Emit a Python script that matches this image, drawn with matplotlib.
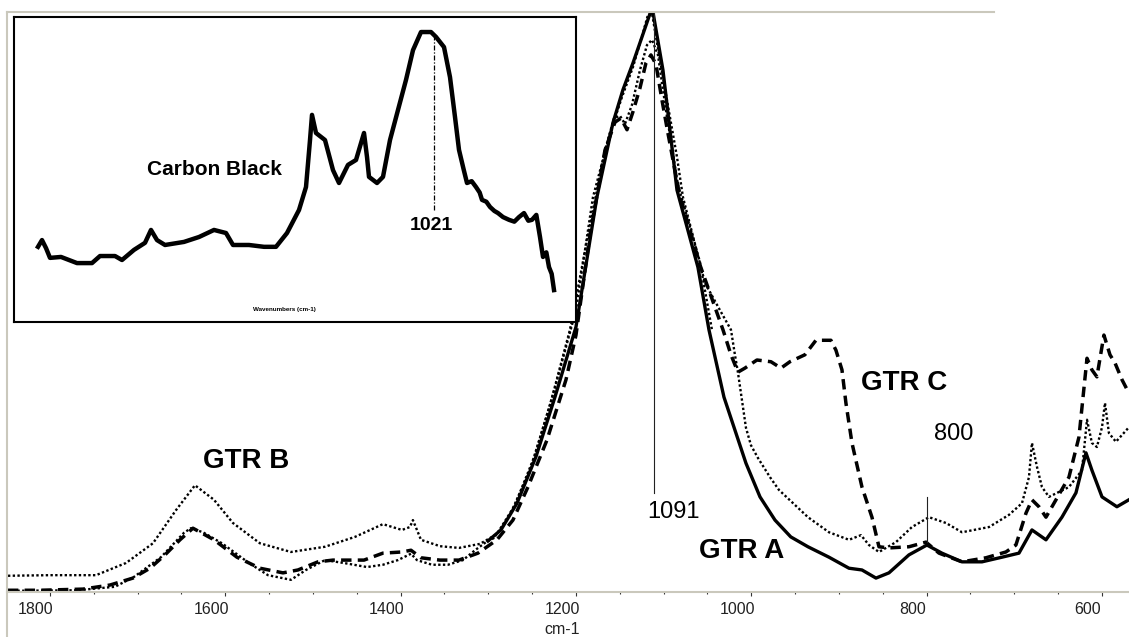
import matplotlib
matplotlib.use('Agg')
import matplotlib.pyplot as plt
from matplotlib.lines import Line2D
from matplotlib.ticker import MultipleLocator
from matplotlib.transforms import ScaledTranslation

plt.rcParams['font.family'] = ['Liberation Sans', 'DejaVu Sans']

# ---- GTR A (solid) ----
gtr_a_wn = [1300.4, 1285.6, 1267.3, 1245.7, 1224.0, 1200.0, 1176.1, 1157.8, 1146.4, 1135.0,
            1124.7, 1115.6, 1112.2, 1100.8, 1084.8, 1060.9, 1048.3, 1031.2, 1006.1, 990.1,
            973.0, 955.0, 935.4, 911.4, 888.6, 873.8, 857.8, 843.0, 820.2, 799.7,
            782.6, 759.7, 736.9, 714.1, 694.7, 679.9, 663.9, 645.7, 629.7, 618.3,
            611.5, 600.0, 583.0, 569.3]
gtr_a_abs = [0.088, 0.107, 0.153, 0.233, 0.336, 0.457, 0.681, 0.809, 0.866, 0.912,
             0.957, 0.997, 1.000, 0.900, 0.693, 0.560, 0.452, 0.336, 0.222, 0.164,
             0.124, 0.095, 0.078, 0.060, 0.041, 0.038, 0.024, 0.033, 0.064, 0.081,
             0.067, 0.052, 0.052, 0.060, 0.067, 0.107, 0.090, 0.129, 0.171, 0.240,
             0.210, 0.164, 0.147, 0.159]

# ---- GTR B (upper dotted) ----
gtr_b_wn = [1847.9, 1800.0, 1747.5, 1713.3, 1682.5, 1656.3, 1634.6, 1612.9, 1591.3, 1560.5,
            1525.1, 1486.3, 1452.1, 1420.2, 1398.5, 1389.4, 1386.0, 1376.8, 1355.2, 1333.5,
            1309.5, 1290.1, 1269.6, 1246.8, 1224.0, 1200.0, 1180.6, 1161.2, 1147.6, 1135.0,
            1123.6, 1117.9, 1113.3, 1107.6, 1096.2, 1084.8, 1078.0, 1052.9, 1035.8, 1023.2,
            1018.7, 1015.3, 1010.7, 1006.1, 1000.4, 992.4, 978.7, 968.5, 935.4, 911.4,
            888.6, 874.9, 865.8, 854.4, 835.0, 816.8, 797.4, 778.0, 759.7, 728.9,
            706.1, 691.3, 683.3, 679.9, 674.2, 668.5, 660.5, 637.7, 622.8, 617.1,
            611.5, 605.8, 600.0, 596.6, 592.1, 584.1, 569.3]
gtr_b_abs = [0.028, 0.029, 0.029, 0.050, 0.084, 0.141, 0.184, 0.159, 0.119, 0.084,
             0.069, 0.078, 0.095, 0.117, 0.107, 0.112, 0.124, 0.090, 0.079, 0.076,
             0.083, 0.100, 0.150, 0.236, 0.352, 0.486, 0.681, 0.791, 0.853, 0.905,
             0.964, 0.995, 0.998, 0.947, 0.848, 0.750, 0.681, 0.533, 0.486, 0.452,
             0.409, 0.379, 0.331, 0.283, 0.253, 0.231, 0.198, 0.176, 0.129, 0.103,
             0.090, 0.098, 0.081, 0.069, 0.086, 0.112, 0.129, 0.119, 0.103, 0.112,
             0.133, 0.153, 0.198, 0.257, 0.216, 0.181, 0.164, 0.181, 0.210, 0.297,
             0.257, 0.250, 0.284, 0.326, 0.274, 0.259, 0.284]

# ---- GTR C (dashed) ----
gtr_c_wn = [1847.9, 1811.4, 1762.4, 1731.6, 1705.3, 1685.9, 1668.8, 1651.7, 1636.9, 1612.9,
            1586.7, 1560.5, 1534.2, 1517.1, 1494.3, 1477.2, 1441.8, 1420.2, 1398.5, 1388.2,
            1376.8, 1355.2, 1333.5, 1311.8, 1290.1, 1271.9, 1254.8, 1233.1, 1211.4, 1200.0,
            1184.0, 1166.9, 1155.5, 1148.7, 1141.8, 1135.0, 1127.0, 1120.2, 1114.5, 1108.8,
            1101.9, 1095.1, 1081.4, 1058.6, 1032.3, 1023.2, 1015.3, 1007.3, 993.6, 977.6,
            966.2, 956.0, 938.9, 926.3, 909.2, 903.5, 896.6, 892.1, 885.2, 873.8,
            862.4, 854.4, 843.0, 820.2, 800.8, 785.9, 759.7, 732.4, 709.6, 698.2,
            686.7, 679.9, 671.9, 663.9, 652.5, 637.7, 626.3, 617.1, 611.5, 605.8,
            597.8, 590.9, 585.2, 577.2, 569.3]
gtr_c_abs = [0.003, 0.003, 0.005, 0.012, 0.024, 0.041, 0.064, 0.090, 0.110, 0.090,
             0.060, 0.041, 0.033, 0.038, 0.052, 0.055, 0.055, 0.067, 0.069, 0.072,
             0.059, 0.055, 0.055, 0.067, 0.090, 0.124, 0.181, 0.262, 0.366, 0.443,
             0.616, 0.762, 0.810, 0.817, 0.797, 0.828, 0.869, 0.912, 0.926, 0.910,
             0.848, 0.791, 0.681, 0.564, 0.452, 0.409, 0.379, 0.386, 0.400, 0.397,
             0.386, 0.397, 0.409, 0.434, 0.434, 0.417, 0.383, 0.326, 0.257, 0.181,
             0.129, 0.078, 0.076, 0.078, 0.086, 0.067, 0.052, 0.059, 0.069, 0.081,
             0.136, 0.159, 0.147, 0.129, 0.159, 0.198, 0.267, 0.403, 0.383, 0.371,
             0.443, 0.409, 0.395, 0.366, 0.343]

# ---- lower dotted trace ----
gtr_d_wn = [1847.9, 1769.2, 1725.9, 1704.2, 1673.4, 1647.2, 1639.2, 1625.5, 1603.8, 1573.0,
            1551.3, 1525.1, 1508.0, 1486.3, 1464.7, 1438.4, 1420.2, 1403.1, 1388.2, 1381.4,
            1364.3, 1346.0, 1328.9, 1315.2, 1302.7, 1293.6, 1275.3, 1252.5, 1229.7, 1206.9,
            1184.0, 1166.9, 1156.6, 1149.8, 1144.1, 1136.1, 1127.0, 1119.0, 1113.3, 1106.5,
            1097.4, 1083.7, 1058.6, 1044.9]
gtr_d_abs = [0.002, 0.003, 0.009, 0.026, 0.060, 0.102, 0.110, 0.103, 0.084, 0.050,
             0.029, 0.021, 0.038, 0.055, 0.050, 0.043, 0.047, 0.055, 0.066, 0.055,
             0.047, 0.047, 0.055, 0.072, 0.086, 0.093, 0.133, 0.210, 0.322, 0.452,
             0.633, 0.762, 0.817, 0.821, 0.807, 0.840, 0.900, 0.943, 0.952, 0.926,
             0.831, 0.702, 0.569, 0.452]

# ---- inset: carbon black ----
cb_wn = [1613.5, 1607.5, 1601.5, 1595.5, 1579.0, 1555.0, 1532.5, 1520.5, 1498.0, 1487.5,
         1469.5, 1453.0, 1444.0, 1435.0, 1423.0, 1394.5, 1372.0, 1349.5, 1331.5, 1321.0,
         1297.0, 1274.5, 1256.5, 1240.0, 1222.0, 1211.5, 1205.5, 1202.5, 1196.5, 1183.0,
         1171.0, 1162.0, 1148.5, 1136.5, 1124.5, 1120.0, 1117.0, 1105.0, 1096.0, 1085.5,
         1073.5, 1061.5, 1051.0, 1039.0, 1024.0, 1016.5, 1004.5, 995.5, 988.0, 982.0,
         975.0, 970.0, 963.0, 956.5, 951.0, 947.5, 941.0, 935.5, 929.0, 923.5,
         916.0, 907.0, 899.0, 892.0, 884.5, 878.0, 872.5, 866.0, 860.5, 856.0,
         851.0, 847.0, 843.0, 839.5]
cb_abs = [0.248, 0.270, 0.244, 0.212, 0.215, 0.195, 0.195, 0.218, 0.218, 0.205,
          0.238, 0.261, 0.303, 0.270, 0.254, 0.264, 0.280, 0.303, 0.293, 0.254,
          0.254, 0.248, 0.248, 0.293, 0.368, 0.443, 0.596, 0.678, 0.619, 0.596,
          0.498, 0.456, 0.515, 0.531, 0.619, 0.541, 0.476, 0.456, 0.476, 0.596,
          0.694, 0.792, 0.889, 0.948, 0.948, 0.932, 0.899, 0.801, 0.671, 0.564,
          0.500, 0.456, 0.462, 0.443, 0.425, 0.401, 0.395, 0.378, 0.365, 0.358,
          0.345, 0.336, 0.330, 0.345, 0.358, 0.333, 0.336, 0.352, 0.280, 0.215,
          0.230, 0.182, 0.160, 0.107]

tick_values = [1800, 1600, 1400, 1200, 1000, 800, 600]

W, H, DPI = 1129, 637, 100
GRAY = '#cac8bc'


def fx(px):
    return px / W


def fy(py):
    return 1 - py / H


fig = plt.figure(figsize=(W / DPI, H / DPI), dpi=DPI)
fig.patch.set_facecolor('white')

ax = fig.add_axes([fx(7), fy(592), fx(1129) - fx(7), fy(12) - fy(592)])
ax.plot(gtr_d_wn, gtr_d_abs, color='black', lw=1.7, ls=(0, (1, 1)))
ax.plot(gtr_b_wn, gtr_b_abs, color='black', lw=1.7, ls=(0, (1, 1)))
ax.plot(gtr_c_wn, gtr_c_abs, color='black', lw=2.5, ls=(0, (3, 1.8)))
ax.plot(gtr_a_wn, gtr_a_abs, color='black', lw=2.4, solid_joinstyle='round')

ax.set_xlim(1849, 569.2)
ax.set_ylim(0, 1)
for side in ['left', 'top', 'right']:
    ax.spines[side].set_visible(False)
ax.spines['bottom'].set_color(GRAY)
ax.spines['bottom'].set_linewidth(1.5)
ax.yaxis.set_visible(False)
ax.xaxis.set_major_locator(MultipleLocator(200))
ax.xaxis.set_minor_locator(MultipleLocator(50))
ax.tick_params(axis='x', which='major', direction='out', length=2.7, width=0.8,
               color='#333333', labelbottom=False)
ax.tick_params(axis='x', which='minor', direction='out', length=1.5, width=0.8,
               color='#333333')

lbl_shift = ScaledTranslation(-14 / DPI, -22 / DPI, fig.dpi_scale_trans)
for t in tick_values:
    ax.text(t, 0, str(t), transform=ax.get_xaxis_transform() + lbl_shift,
            ha='center', va='baseline', fontsize=11.5, color='#222222')
fig.text(fx(562.5), fy(634), 'cm-1', ha='center', va='baseline', fontsize=11.5,
         color='#222222')

# marker lines
ax.plot([1111.3, 1111.3], [0.171, 1.0], color='#222222', lw=0.8)
ax.plot([800, 800], [0.086, 0.164], color='#222222', lw=0.8)

ax.text(1576.4, 0.214, 'GTR B', ha='center', va='baseline', fontsize=20, fontweight='bold')
ax.text(825.9, 0.348, 'GTR C', ha='center', va='baseline', fontsize=20, fontweight='bold')
ax.text(1010.7, 0.059, 'GTR A', ha='center', va='baseline', fontsize=20, fontweight='bold')
ax.text(768.9, 0.262, '800', ha='center', va='baseline', fontsize=17)
ax.text(1088.8, 0.128, '1091', ha='center', va='baseline', fontsize=17)

# frame lines
fig.add_artist(Line2D([fx(7), fx(994)], [fy(12), fy(12)], color=GRAY, lw=1.5))
fig.add_artist(Line2D([fx(7), fx(7)], [fy(12), fy(637)], color=GRAY, lw=1.5))

# inset
ins = fig.add_axes([fx(14), fy(322), fx(576) - fx(14), fy(17) - fy(322)])
ins.set_facecolor('white')
ins.plot(cb_wn, cb_abs, color='black', lw=3.2, solid_joinstyle='round')
ins.plot([1020.1, 1020.1], [0.368, 0.932], color='black', lw=0.9,
         ls=(0, (4, 1.5, 1, 1.5)))
ins.set_xlim(1649.5, 806.5)
ins.set_ylim(0.003, 0.997)
ins.set_xticks([])
ins.set_yticks([])
for s in ins.spines.values():
    s.set_color('black')
    s.set_linewidth(1.5)
narrow = ['Liberation Sans Narrow', 'Liberation Sans', 'DejaVu Sans']
ins.text(1349.5, 0.482, 'Carbon Black', ha='center', va='baseline', fontsize=15,
         fontweight='bold', family=narrow)
ins.text(1023.3, 0.303, '1021', ha='center', va='baseline', fontsize=14,
         fontweight='bold', family=narrow)
ins.text(1243.75, 0.039, 'Wavenumbers (cm-1)', ha='center', va='baseline', fontsize=4.5,
         fontweight='bold', family=narrow)

fig.savefig('out.png', dpi=DPI)
